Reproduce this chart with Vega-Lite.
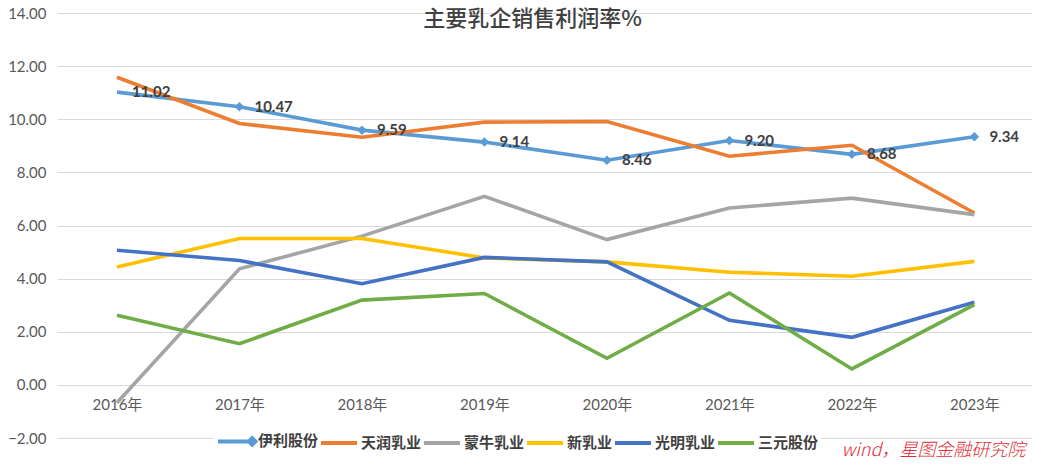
{
  "$schema": "https://vega.github.io/schema/vega-lite/v6.json",
  "autosize": {"type": "none"},
  "width": 975,
  "height": 425,
  "padding": {"left": 57, "top": 13, "right": 6, "bottom": 30},
  "background": "white",
  "title": {
    "text": "主要乳企销售利润率%",
    "font": "Noto Sans CJK SC",
    "fontSize": 22,
    "fontWeight": 500,
    "color": "#404040",
    "anchor": "middle",
    "frame": "group",
    "offset": -25,
    "dx": -12
  },
  "config": {"view": {"stroke": null}, "font": "Lato, Noto Sans CJK SC"},
  "layer": [
    {
      "data": {
        "values": [
          {"year": "2016年", "company": "伊利股份", "value": 11.02},
          {"year": "2017年", "company": "伊利股份", "value": 10.47},
          {"year": "2018年", "company": "伊利股份", "value": 9.59},
          {"year": "2019年", "company": "伊利股份", "value": 9.14},
          {"year": "2020年", "company": "伊利股份", "value": 8.46},
          {"year": "2021年", "company": "伊利股份", "value": 9.20},
          {"year": "2022年", "company": "伊利股份", "value": 8.68},
          {"year": "2023年", "company": "伊利股份", "value": 9.34},
          {"year": "2016年", "company": "天润乳业", "value": 11.58},
          {"year": "2017年", "company": "天润乳业", "value": 9.84},
          {"year": "2018年", "company": "天润乳业", "value": 9.32},
          {"year": "2019年", "company": "天润乳业", "value": 9.89},
          {"year": "2020年", "company": "天润乳业", "value": 9.91},
          {"year": "2021年", "company": "天润乳业", "value": 8.61},
          {"year": "2022年", "company": "天润乳业", "value": 9.02},
          {"year": "2023年", "company": "天润乳业", "value": 6.47},
          {"year": "2016年", "company": "蒙牛乳业", "value": -0.67},
          {"year": "2017年", "company": "蒙牛乳业", "value": 4.37},
          {"year": "2018年", "company": "蒙牛乳业", "value": 5.60},
          {"year": "2019年", "company": "蒙牛乳业", "value": 7.10},
          {"year": "2020年", "company": "蒙牛乳业", "value": 5.47},
          {"year": "2021年", "company": "蒙牛乳业", "value": 6.66},
          {"year": "2022年", "company": "蒙牛乳业", "value": 7.03},
          {"year": "2023年", "company": "蒙牛乳业", "value": 6.41},
          {"year": "2016年", "company": "新乳业", "value": 4.44},
          {"year": "2017年", "company": "新乳业", "value": 5.51},
          {"year": "2018年", "company": "新乳业", "value": 5.51},
          {"year": "2019年", "company": "新乳业", "value": 4.78},
          {"year": "2020年", "company": "新乳业", "value": 4.63},
          {"year": "2021年", "company": "新乳业", "value": 4.24},
          {"year": "2022年", "company": "新乳业", "value": 4.09},
          {"year": "2023年", "company": "新乳业", "value": 4.65},
          {"year": "2016年", "company": "光明乳业", "value": 5.07},
          {"year": "2017年", "company": "光明乳业", "value": 4.68},
          {"year": "2018年", "company": "光明乳业", "value": 3.81},
          {"year": "2019年", "company": "光明乳业", "value": 4.80},
          {"year": "2020年", "company": "光明乳业", "value": 4.63},
          {"year": "2021年", "company": "光明乳业", "value": 2.43},
          {"year": "2022年", "company": "光明乳业", "value": 1.79},
          {"year": "2023年", "company": "光明乳业", "value": 3.11},
          {"year": "2016年", "company": "三元股份", "value": 2.62},
          {"year": "2017年", "company": "三元股份", "value": 1.55},
          {"year": "2018年", "company": "三元股份", "value": 3.19},
          {"year": "2019年", "company": "三元股份", "value": 3.44},
          {"year": "2020年", "company": "三元股份", "value": 1.00},
          {"year": "2021年", "company": "三元股份", "value": 3.46},
          {"year": "2022年", "company": "三元股份", "value": 0.60},
          {"year": "2023年", "company": "三元股份", "value": 3.02}
        ]
      },
      "encoding": {
        "x": {
          "field": "year",
          "type": "nominal",
          "scale": {
            "type": "point",
            "domain": ["2016年", "2017年", "2018年", "2019年", "2020年", "2021年", "2022年", "2023年"],
            "padding": 0.48,
            "align": 0.51
          },
          "axis": {
            "title": null,
            "labelAngle": 0,
            "offset": -53,
            "domain": false,
            "ticks": false,
            "tickSize": 0,
            "labelPadding": 12,
            "labelFontSize": 15,
            "labelColor": "#595959",
            "labelFont": "Lato, Noto Sans CJK SC",
            "grid": false
          }
        },
        "y": {
          "field": "value",
          "type": "quantitative",
          "scale": {"domain": [-2, 14], "nice": false, "zero": false},
          "axis": {
            "title": null,
            "values": [-2, 0, 2, 4, 6, 8, 10, 12, 14],
            "format": ".2f",
            "domain": false,
            "ticks": false,
            "tickSize": 0,
            "labelPadding": 11,
            "labelFontSize": 15,
            "labelColor": "#595959",
            "labelFont": "Lato",
            "gridColor": "#d9d9d9",
            "gridWidth": 1
          }
        }
      },
      "layer": [
        {
          "mark": {"type": "line", "strokeWidth": 3.6},
          "encoding": {
            "color": {
              "field": "company",
              "type": "nominal",
              "scale": {
                "domain": ["伊利股份", "天润乳业", "蒙牛乳业", "新乳业", "光明乳业", "三元股份"],
                "range": ["#5B9BD5", "#ED7D31", "#A5A5A5", "#FFC000", "#4472C4", "#70AD47"]
              },
              "legend": {
                "orient": "none",
                "legendX": 157,
                "legendY": 406,
                "direction": "horizontal",
                "columns": 6,
                "title": null,
                "symbolType": "stroke",
                "symbolSize": 1296,
                "symbolStrokeWidth": 4,
                "labelFont": "Noto Sans CJK SC",
                "labelFontSize": 15,
                "labelFontWeight": "bold",
                "labelColor": "#404040",
                "labelOffset": 2,
                "columnPadding": -7,
                "fillColor": "white",
                "padding": 2,
                "encode": {
                  "symbols": {
                    "update": {
                      "shape": {"signal": "datum.value === '伊利股份' ? 'M-1,0H0.7M0.9,-0.18L1.08,0L0.9,0.18L0.72,0Z' : 'stroke'"},
                      "fill": {"signal": "datum.value === '伊利股份' ? '#5B9BD5' : 'transparent'"}
                    }
                  }
                }
              }
            }
          }
        },
        {
          "transform": [{"filter": "datum.company === '伊利股份' && datum.year !== '2016年'"}],
          "mark": {"type": "point", "shape": "diamond", "filled": true, "size": 90, "color": "#5B9BD5", "opacity": 1}
        },
        {
          "transform": [{"filter": "datum.company === '伊利股份'"}],
          "mark": {
            "type": "text",
            "align": "left",
            "baseline": "middle",
            "dx": 15,
            "font": "Lato",
            "fontSize": 15,
            "fontWeight": "bold",
            "color": "#404040"
          },
          "encoding": {"text": {"field": "value", "type": "quantitative", "format": ".2f"}}
        }
      ]
    },
    {
      "data": {"values": [{"note": "wind，星图金融研究院"}]},
      "mark": {
        "type": "text",
        "align": "right",
        "baseline": "middle",
        "dx": 51,
        "font": "Noto Sans CJK SC",
        "fontSize": 18,
        "fontStyle": "italic",
        "fontWeight": 300,
        "color": "#DD2B35"
      },
      "encoding": {
        "x": {"datum": "2023年", "type": "nominal"},
        "y": {"datum": -2.5, "type": "quantitative"},
        "text": {"field": "note", "type": "nominal"}
      }
    }
  ]
}
